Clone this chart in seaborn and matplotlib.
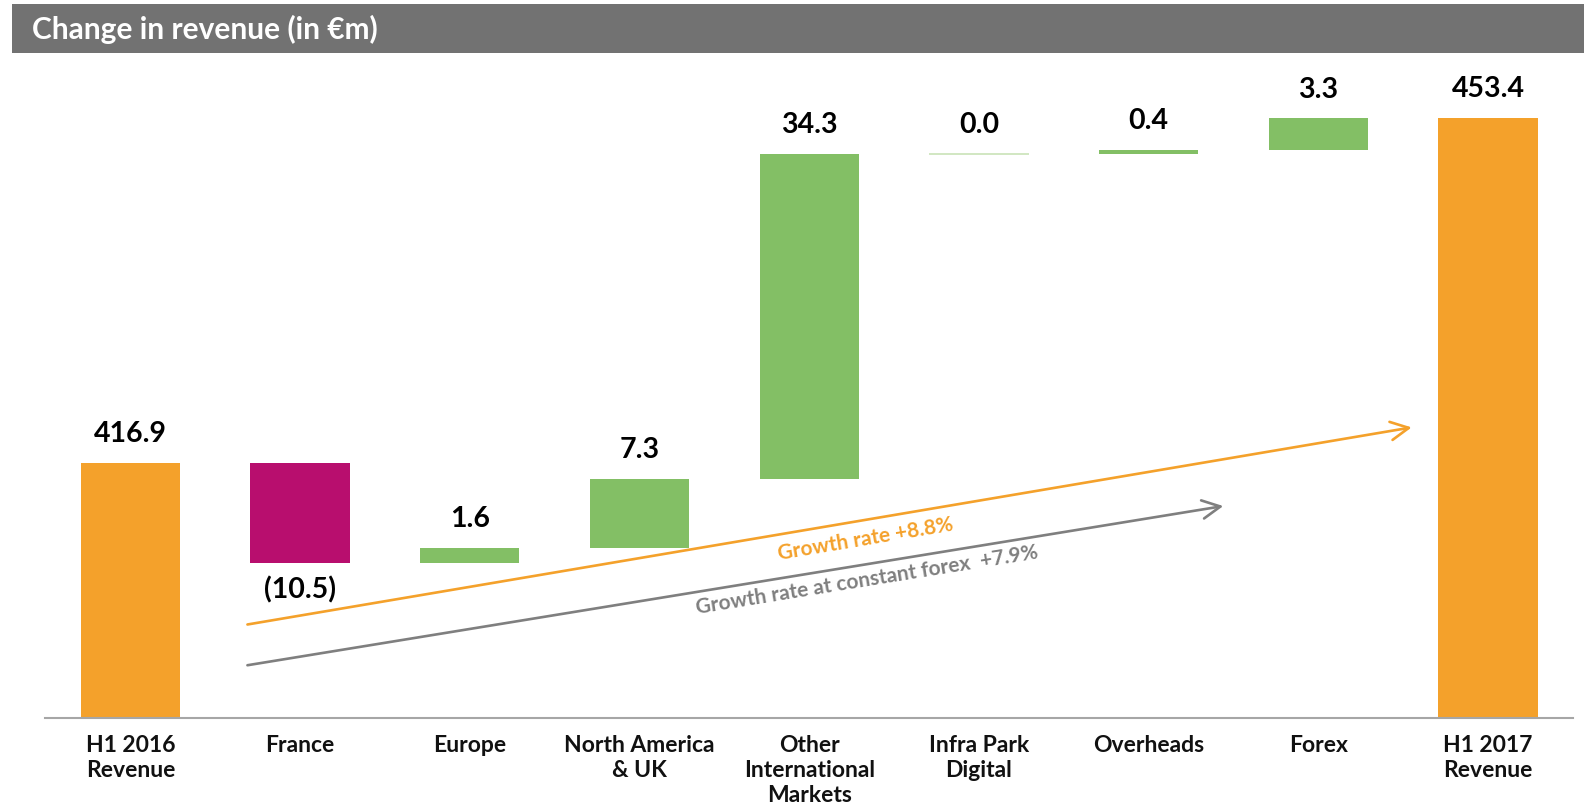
import math
import matplotlib
matplotlib.use("Agg")
import matplotlib.pyplot as plt
from matplotlib.patches import Rectangle
import seaborn as sns

# ---- data -------------------------------------------------------------
categories = ["H1 2016\nRevenue", "France", "Europe", "North America\n& UK",
              "Other\nInternational\nMarkets", "Infra Park\nDigital",
              "Overheads", "Forex", "H1 2017\nRevenue"]
start_value = 416.9
changes = [-10.5, 1.6, 7.3, 34.3, 0.0, 0.4, 3.3]
end_value = 453.4
value_labels = ["416.9", "(10.5)", "1.6", "7.3", "34.3", "0.0", "0.4", "3.3", "453.4"]

growth_total = "Growth rate +8.8%"
growth_constant = "Growth rate at constant forex  +7.9%"
# arrow end points (category position, €m)
growth_total_line = [(0.69, 399.9), (7.55, 420.7)]
growth_constant_line = [(0.69, 395.6), (6.44, 412.4)]
growth_total_text_at = (4.33, 408.9)
growth_constant_text_at = (4.34, 404.6)

title = "Change in revenue (in €m)"

# ---- colours ----------------------------------------------------------
ORANGE = "#F4A12B"
MAGENTA = "#B80E6E"
GREEN = "#83BF65"
PALE_GREEN = "#C9E3B8"
GREY_TXT = "#7F7F7F"
BAR_GREY = "#727272"

# ---- waterfall geometry from the data ------------------------------------
heights, bottoms = [start_value], [0.0]
running = start_value
for c in changes:
    heights.append(c)
    bottoms.append(running)
    running += c
heights.append(end_value)
bottoms.append(0.0)

colors = [ORANGE] + [MAGENTA if c < 0 else GREEN for c in changes] + [ORANGE]

sns.set_theme(style="white")
plt.rcParams["font.family"] = ["Lato", "DejaVu Sans"]

fig = plt.figure(figsize=(15.84, 8.09), dpi=100)
ax = fig.add_axes([0.0287, 0.1121, 0.9643, 0.8129])

sns.barplot(x=categories, y=heights, bottom=bottoms, color=ORANGE,
            width=0.585, ax=ax, errorbar=None, linewidth=0)
for patch, col, h in zip(ax.patches, colors, heights):
    patch.set_facecolor(col)
    if h == 0:
        patch.set_edgecolor(PALE_GREEN)
        patch.set_linewidth(1.2)

ax.set_xlim(-0.5, len(categories) - 0.5)
ax.set_ylim(390, 459.4)

# value labels
for i, (h, b, lab) in enumerate(zip(heights, bottoms, value_labels)):
    top = b + max(h, 0)
    low = b + min(h, 0)
    if h < 0:
        ax.annotate(lab, (i, low), xytext=(0, -10), textcoords="offset points",
                    ha="center", va="top", fontsize=20.5, fontweight="bold",
                    color="black")
    else:
        ax.annotate(lab, (i, top), xytext=(0, 11.5), textcoords="offset points",
                    ha="center", va="bottom", fontsize=20.5, fontweight="bold",
                    color="black")

# axes styling
for side in ["top", "right", "left"]:
    ax.spines[side].set_visible(False)
ax.spines["bottom"].set_color("#A6A6A6")
ax.spines["bottom"].set_linewidth(1.5)
ax.set_yticks([])
ax.set_ylabel("")
ax.tick_params(axis="x", length=0, pad=12)
for t in ax.get_xticklabels():
    t.set_fontsize(16.5)
    t.set_fontweight("bold")
    t.set_color("#111111")
    t.set_linespacing(1.25)
    t.set_verticalalignment("top")


def screen_angle(p0, p1):
    a = ax.transData.transform(p0)
    b = ax.transData.transform(p1)
    return math.degrees(math.atan2(b[1] - a[1], b[0] - a[0]))


fig.canvas.draw()

arrow_style = "->,head_length=0.65,head_width=0.33"
for line, col, txt, pos in [
    (growth_total_line, ORANGE, growth_total, growth_total_text_at),
    (growth_constant_line, GREY_TXT, growth_constant, growth_constant_text_at),
]:
    ax.annotate("", xy=line[1], xytext=line[0],
                arrowprops=dict(arrowstyle=arrow_style, color=col, lw=1.9,
                                mutation_scale=20, shrinkA=0, shrinkB=0))
    ax.text(pos[0], pos[1], txt, color=col, fontsize=15, fontweight="bold",
            rotation=screen_angle(*line), rotation_mode="anchor",
            ha="center", va="center")

# title band
fig.patches.append(Rectangle((12 / 1584, 1 - 53 / 809), 1 - 12 / 1584, 49 / 809,
                             transform=fig.transFigure, facecolor=BAR_GREY,
                             edgecolor="none", zorder=0))
fig.text(32 / 1584, 1 - 29 / 809, title, color="white", fontsize=21.5,
         fontweight="bold", ha="left", va="center")

fig.savefig("out.png", dpi=100)
